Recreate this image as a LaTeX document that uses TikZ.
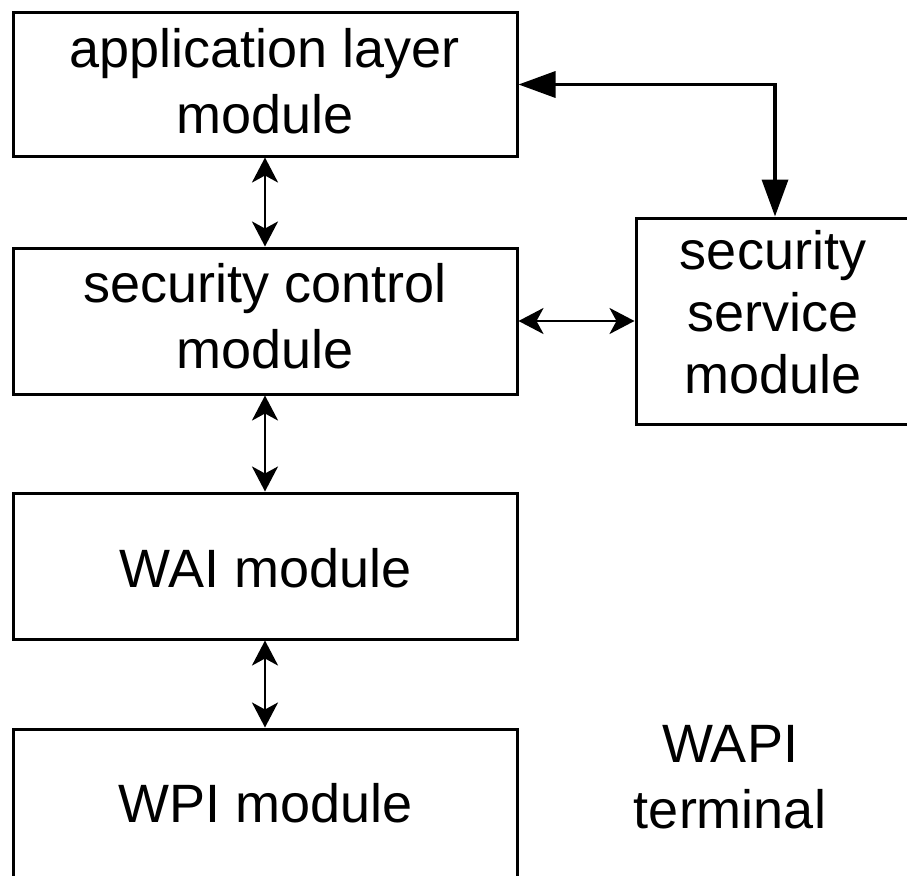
\documentclass[tikz,border=0pt]{standalone}
\usepackage{fontspec}
\setmainfont{Liberation Sans}
\usetikzlibrary{arrows.meta}
\begin{document}
\begin{tikzpicture}[x=1pt,y=-1pt,
  box/.style={draw, line width=3pt, inner sep=0pt},
  txt/.style={font=\fontsize{54}{66}\selectfont, align=center, anchor=base, inner sep=0pt},
  dbl/.style={line width=2.8pt, {Stealth[length=25pt,width=26pt,inset=7pt]}-{Stealth[length=25pt,width=26pt,inset=7pt]}},
  big/.style={line width=3.5pt, {Triangle[length=37pt,width=26pt]}-{Triangle[length=37pt,width=26pt]}}
]
\clip (0,0) rectangle (907,875);
\node[box, minimum width=504pt, minimum height=143pt] (app) at (265,84.5) {};
\node[box, minimum width=504pt, minimum height=146pt] (sec) at (265,321) {};
\node[box, minimum width=504pt, minimum height=146pt] (wai) at (265,566) {};
\node[box, minimum width=504pt, minimum height=170pt] (wpi) at (265,814) {};
\node[box, minimum width=340pt, minimum height=206pt] (svc) at (806,321) {};

\node[txt] (appT) at (265,133) {application layer\\module};
\node[txt] (secT) at (265,368) {security control\\module};
\node[txt, font=\fontsize{54}{62}\selectfont] (svcT) at (773,393) {security\\service\\module};
\node[txt] (waiT) at (266,587) {WAI module};
\node[txt] (wpiT) at (266,822) {WPI module};
\node[txt] (term) at (730,828) {WAPI\\terminal};

\draw[big] (app.east) -| ([xshift=-31pt]svc.north);
\draw[dbl] (app.south) -- (sec.north);
\draw[dbl] (sec.south) -- (wai.north);
\draw[dbl] (wai.south) -- (wpi.north);
\draw[dbl] (sec.east) -- (svc.west);
\end{tikzpicture}
\end{document}
